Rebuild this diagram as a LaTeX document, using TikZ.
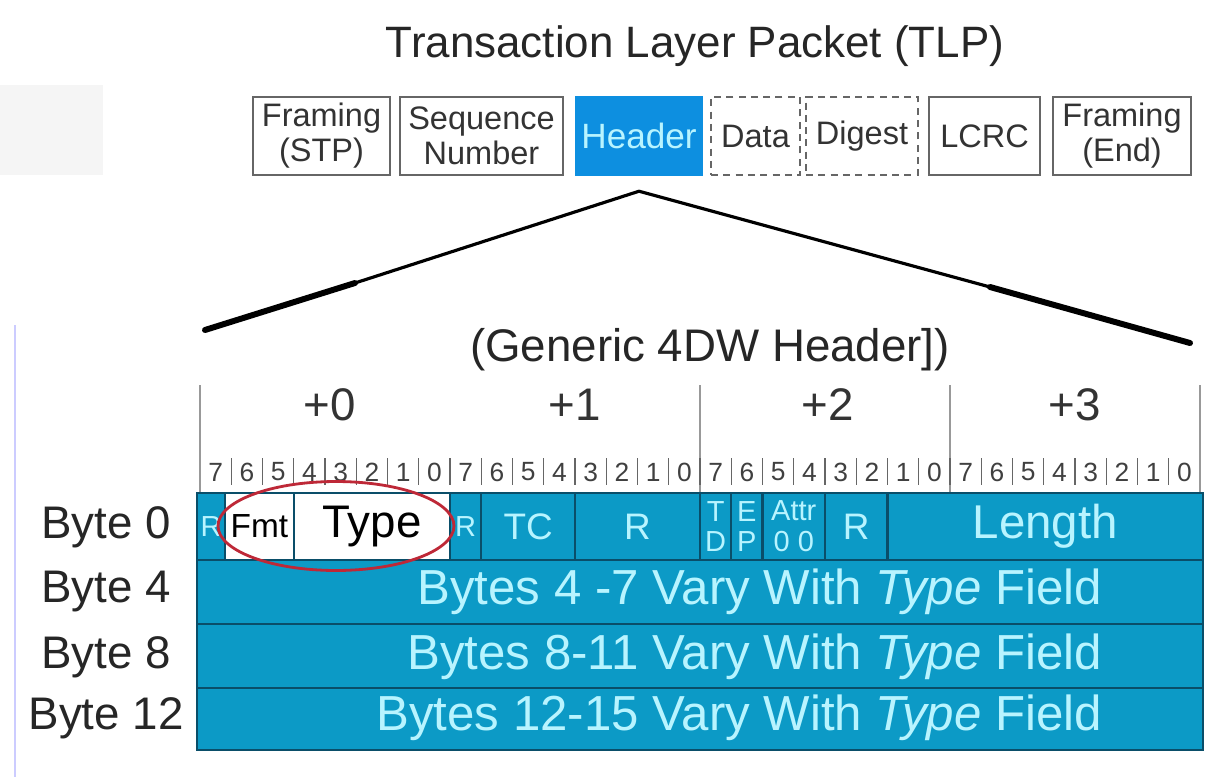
\documentclass[tikz,border=0pt]{standalone}
\usepackage{fontspec}
\setmainfont{Liberation Sans}
\usetikzlibrary{positioning, fit, shapes.geometric}
\definecolor{hdrblue}{RGB}{13,143,224}
\definecolor{rowteal}{RGB}{12,154,198}
\definecolor{rowedge}{RGB}{10,78,105}
\definecolor{paletxt}{RGB}{184,244,255}
\definecolor{ringred}{RGB}{190,40,55}

\begin{document}
\begin{tikzpicture}[
    x=0.02cm, y=-0.02cm,
    pbox/.style={rectangle, draw=black!60, line width=1.4pt, fill=white,
                 align=center, text=black!80, inner sep=0pt,
                 minimum height=1.56cm, font=\fontsize{18.5}{20}\selectfont},
    obox/.style={pbox, dashed, dash pattern=on 4pt off 3pt},
    hbox/.style={pbox, draw=hdrblue, fill=hdrblue, text=paletxt,
                 font=\fontsize{20}{22}\selectfont},
    cell/.style={rectangle, draw=rowedge, line width=1.2pt, fill=rowteal,
                 inner sep=0pt},
    wcell/.style={cell, fill=white},
    ctxt/.style={text=paletxt, align=center, inner sep=0pt,
                 font=\fontsize{21}{22}\selectfont},
    tiny/.style={ctxt, font=\fontsize{16.5}{17.5}\selectfont},
    rowtxt/.style={text=paletxt, anchor=east, font=\fontsize{28}{30}\selectfont},
    bytelbl/.style={text=black!85, font=\fontsize{26}{28}\selectfont},
    offlbl/.style={text=black!80, font=\fontsize{26}{28}\selectfont},
    bitno/.style={text=black!75, font=\fontsize{15}{15}\selectfont},
    bitsep/.style={draw=black!60, line width=0.8pt},
    bytesep/.style={draw=black!40, line width=1.3pt},
    zoom/.style={line width=1.8pt, line cap=round},
    zoomthick/.style={line width=3.4pt, line cap=round},
]

%% ─── page and faint screenshot edges ─────────────────────────
\useasboundingbox (0,0) rectangle (1223,777);
\fill[white] (0,0) rectangle (1223,777);
\fill[black!4] (0,85) rectangle (103,175);
\draw[blue!20, line width=1pt] (15,325) -- (15,777);

%% ─── TLP strip ───────────────────────────────────────────────
\node[font=\fontsize{25}{28}\selectfont, text=black!85] (tlp) at (695,46)
    {Transaction Layer Packet (TLP)};

\node[pbox, minimum width=2.74cm] (stp)  at (321.5,136) {Framing\\(STP)};
\node[pbox, minimum width=3.26cm] (seq)  at (481.5,136) {Sequence\\Number};
\node[hbox, minimum width=2.52cm] (hdr)  at (639,136)   {Header};
\node[obox, minimum width=1.78cm] (data) at (755.5,136) {Data};
\node[obox, minimum width=2.24cm] (dig)  at (862,136)   {Digest};
\node[pbox, minimum width=2.22cm] (lcrc) at (984.5,136) {LCRC};
\node[pbox, minimum width=2.76cm] (fend) at (1122,136)  {Framing\\(End)};

%% ─── zoom lines: header → 4DW layout ─────────────────────────
\coordinate[below=0.3cm of hdr] (apex);
\coordinate (lmid) at (355,283);
\coordinate (lend) at (205,330);
\coordinate (rmid) at (990,287);
\coordinate (rend) at (1190,343);
\draw[zoom] (apex) -- (lmid);
\draw[zoom] (apex) -- (rmid);
\draw[zoomthick] (lmid) -- (lend);
\draw[zoomthick] (rmid) -- (rend);

\node[font=\fontsize{26}{28}\selectfont, text=black!85] (gen) at (710,350)
    {(Generic 4DW Header])};

%% ─── byte offsets and bit numbers ────────────────────────────
\foreach \x in {200,700,950,1200}
    \draw[bytesep] (\x,385) -- (\x,493);
\foreach \x/\t [count=\i from 0] in {330/+0, 575/+1, 828/+2, 1075/+3}
    \node[offlbl] (off\i) at (\x,405) {\t};
\foreach \k in {0,...,31} {
    \pgfmathtruncatemacro\b{7-mod(\k,8)}
    \node[bitno] (bit\k) at (215.6+31.25*\k,472) {\b};
}
\foreach \k in {1,...,31}
    \draw[bitsep] (200+31.25*\k,458) -- ++(0,27);

%% ─── row 0 fields ────────────────────────────────────────────
\node[cell,  fit={(197,493) (225,560)}]       (r0a)  {};
\node[wcell, fit={(225,493) (293.75,560)}]    (fmt)  {};
\node[wcell, fit={(293.75,493) (450,560)}]    (type) {};
\node[cell,  fit={(450,493) (481.25,560)}]    (r0b)  {};
\node[cell,  fit={(481.25,493) (575,560)}]    (tc)   {};
\node[cell,  fit={(575,493) (700,560)}]       (r0c)  {};
\node[cell,  fit={(700,493) (731.25,560)}]    (td)   {};
\node[cell,  fit={(731.25,493) (762.5,560)}]  (ep)   {};
\node[cell,  fit={(762.5,493) (825,560)}]     (attr) {};
\node[cell,  fit={(825,493) (887.5,560)}]     (r0d)  {};
\node[cell,  fit={(887.5,493) (1203,560)}]    (len)  {};

\node[tiny] at (r0a)  {R};
\node[ctxt, text=black, font=\fontsize{19}{20}\selectfont] at (fmt) {Fmt};
\node[ctxt, text=black, font=\fontsize{26}{28}\selectfont] at (type) {Type};
\node[tiny] at (r0b)  {R};
\node[ctxt] at (tc)   {TC};
\node[ctxt] at (r0c)  {R};
\node[tiny] at (td)   {T\\D};
\node[tiny] at (ep)   {E\\P};
\node[tiny] at (attr) {Attr\\0 0};
\node[ctxt] at (r0d)  {R};
\node[ctxt, font=\fontsize{27}{28}\selectfont] at (len) {Length};

%% ─── rows 1-3 ────────────────────────────────────────────────
\node[cell, fit={(197,560) (1203,624)}] (row1) {};
\node[cell, fit={(197,624) (1203,688)}] (row2) {};
\node[cell, fit={(197,688) (1203,750)}] (row3) {};
\node[rowtxt] at (1108,592) {Bytes 4 -7 Vary With \textit{Type} Field};
\node[rowtxt] at (1108,657) {Bytes 8-11 Vary With \textit{Type} Field};
\node[rowtxt] at (1108,718) {Bytes 12-15 Vary With \textit{Type} Field};

\node[bytelbl] (b0)  at (106,527) {Byte 0};
\node[bytelbl] (b4)  at (106,592) {Byte 4};
\node[bytelbl] (b8)  at (106,657) {Byte 8};
\node[bytelbl] (b12) at (106,718) {Byte 12};

%% ─── red ring round Fmt / Type ───────────────────────────────
\node[ellipse, draw=ringred, line width=1.6pt,
      minimum width=4.72cm, minimum height=1.78cm] (ring) at (336,526) {};

\end{tikzpicture}
\end{document}
